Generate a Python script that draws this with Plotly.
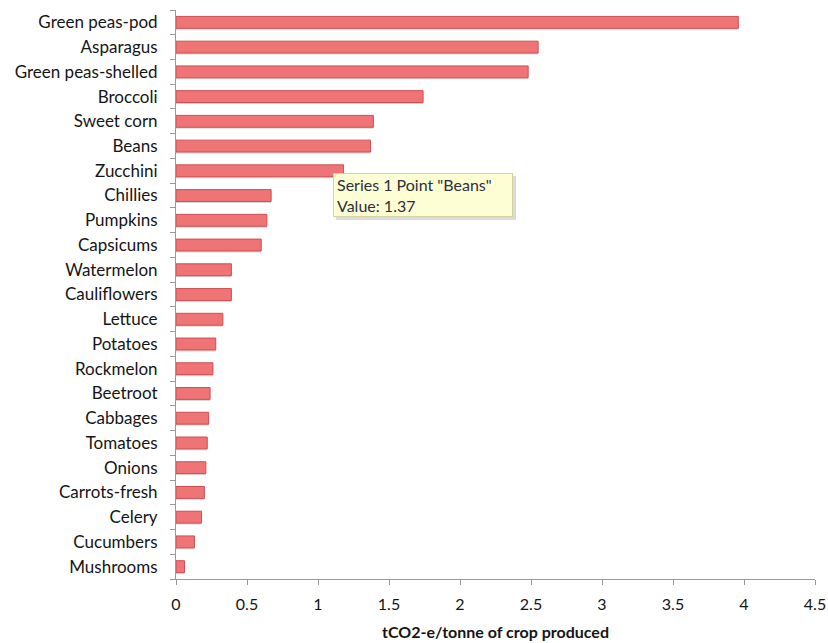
import plotly.graph_objects as go

# Emissions intensity by crop (tCO2-e per tonne produced), largest first
crops = [
    "Green peas-pod", "Asparagus", "Green peas-shelled", "Broccoli", "Sweet corn",
    "Beans", "Zucchini", "Chillies", "Pumpkins", "Capsicums", "Watermelon",
    "Cauliflowers", "Lettuce", "Potatoes", "Rockmelon", "Beetroot", "Cabbages",
    "Tomatoes", "Onions", "Carrots-fresh", "Celery", "Cucumbers", "Mushrooms",
]
emissions = [
    3.96, 2.55, 2.48, 1.74, 1.39,
    1.37, 1.18, 0.67, 0.64, 0.60, 0.39,
    0.39, 0.33, 0.28, 0.26, 0.24, 0.23,
    0.22, 0.21, 0.20, 0.18, 0.13, 0.06,
]
x_ticks = [0, 0.5, 1, 1.5, 2, 2.5, 3, 3.5, 4, 4.5]
x_tick_text = ["0", "0.5", "1", "1.5", "2", "2.5", "3", "3.5", "4", "4.5"]
x_title = "tCO2-e/tonne of crop produced"
tooltip_crop = "Beans"

font_family = "Lato, 'Open Sans', 'DejaVu Sans', sans-serif"

fig = go.Figure()

# soft drop shadow under each bar
fig.add_trace(go.Bar(
    x=emissions, y=crops, orientation="h",
    marker=dict(color="rgba(110,110,110,0.28)", line=dict(width=0)),
    width=0.5, offset=-0.3, hoverinfo="skip", showlegend=False,
))
fig.add_trace(go.Bar(
    x=emissions, y=crops, orientation="h",
    marker=dict(color="#EE7476", line=dict(color="#CF4F52", width=1)),
    width=0.48, offset=-0.24, name="Series 1", showlegend=False,
))

idx = crops.index(tooltip_crop)
# tooltip shadow then tooltip box
fig.add_annotation(
    x=1.125, xref="x", y=0.7080, yref="paper",
    xanchor="left", yanchor="top", align="left",
    text=" ", showarrow=False, width=172, height=36,
    font=dict(family=font_family, size=16),
    bgcolor="rgba(90,90,90,0.22)", borderwidth=0, borderpad=4,
)
fig.add_annotation(
    x=1.106, xref="x", y=0.7135, yref="paper",
    xanchor="left", yanchor="top", align="left", valign="middle",
    text=f'Series 1 Point "{tooltip_crop}"<br>Value: {emissions[idx]:.2f}',
    showarrow=False, width=172, height=36,
    font=dict(family=font_family, size=16, color="#2e2e3c"),
    bgcolor="#FEFED4", bordercolor="#D4D4A8", borderwidth=1, borderpad=3,
)

fig.update_layout(
    width=828, height=643,
    margin=dict(l=176, r=13, t=10, b=64, autoexpand=False),
    paper_bgcolor="white", plot_bgcolor="white",
    barmode="overlay",
    font=dict(family=font_family, size=17, color="#151515"),
    xaxis=dict(
        range=[0, 4.5], tickvals=x_ticks, ticktext=x_tick_text,
        automargin=False,
        showgrid=False, zeroline=False,
        showline=True, linecolor="#9a9a9a", linewidth=1,
        ticks="outside", ticklen=5, tickcolor="#9a9a9a",
        ticklabelstandoff=6,
        tickfont=dict(size=16, color="#151515"),
        title=dict(text=f"<b>{x_title}</b>", font=dict(size=16, color="#151515"), standoff=14),
    ),
    yaxis=dict(
        categoryorder="array", categoryarray=crops[::-1],
        range=[-0.5, len(crops) - 0.5],
        automargin=False,
        showgrid=False, zeroline=False,
        showline=True, linecolor="#9a9a9a", linewidth=1,
        ticks="outside", ticklen=5, tickcolor="#9a9a9a", tickson="boundaries",
        ticklabelstandoff=14,
        tickfont=dict(size=17, color="#151515"),
    ),
)

fig.write_html("out.html")
